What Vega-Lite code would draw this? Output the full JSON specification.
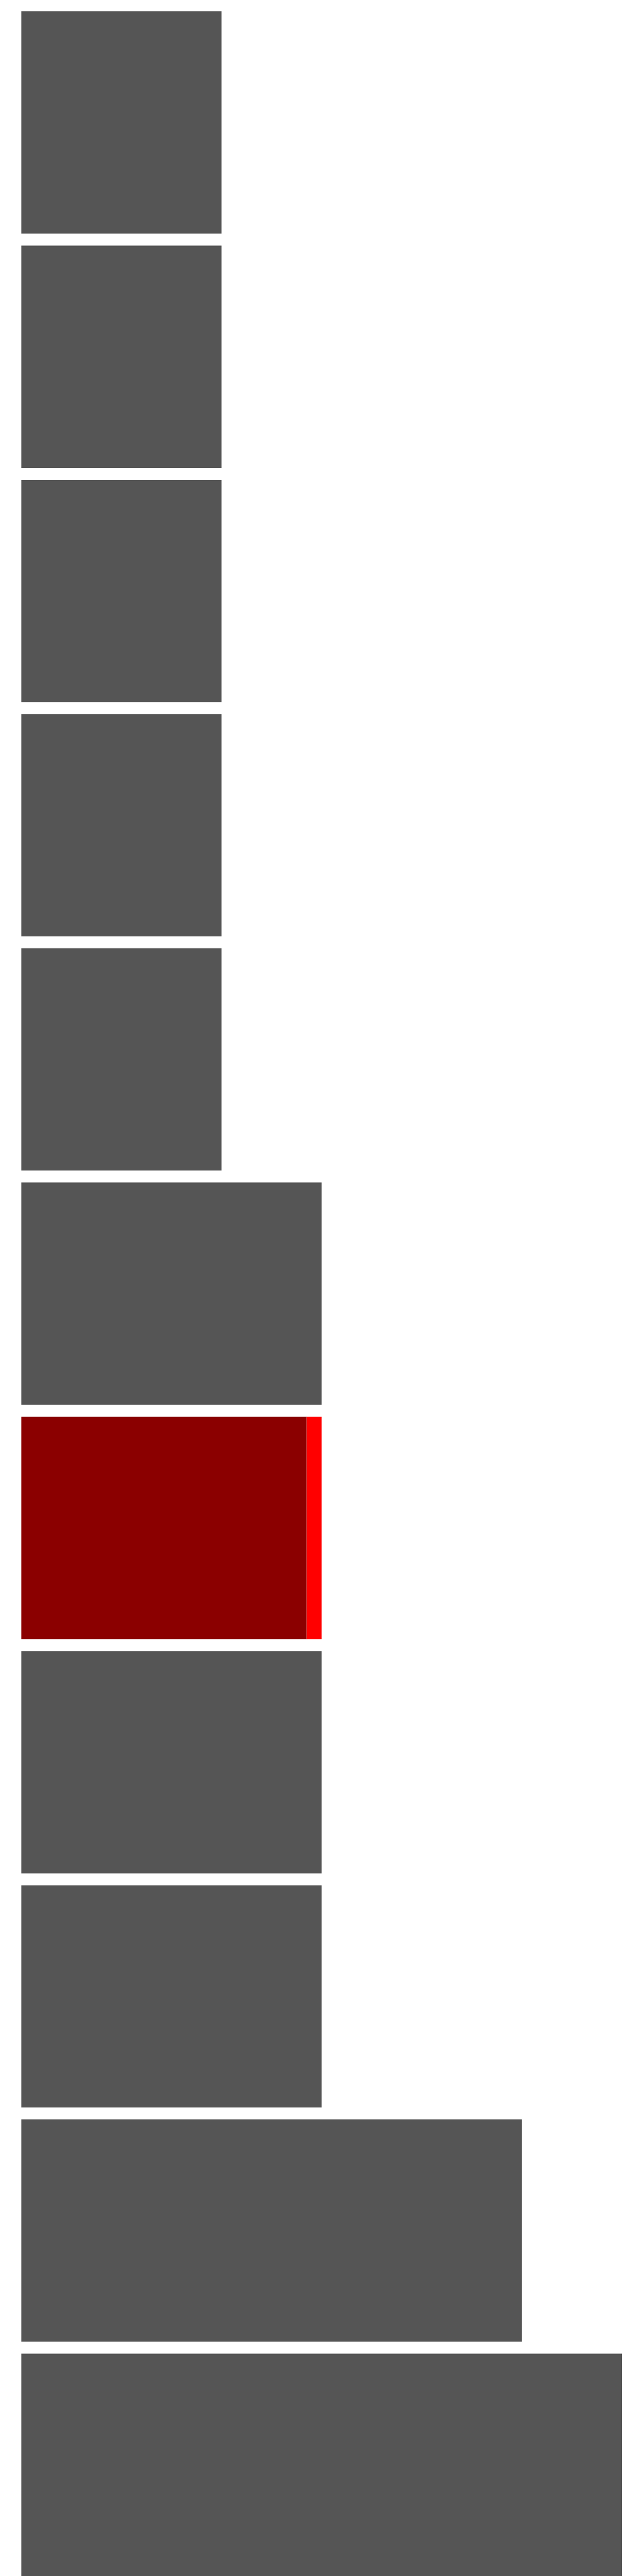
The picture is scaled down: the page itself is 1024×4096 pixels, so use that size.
{
  "$schema": "https://vega.github.io/schema/vega-lite/v6.json",
  "width": 955,
  "height": 4078,
  "padding": {"left": 34, "top": 18, "right": 0, "bottom": 0},
  "autosize": {"type": "pad"},
  "background": "#ffffff",
  "config": {"view": {"stroke": null}},
  "data": {
    "values": [
      {"cat": "a", "value": 2, "part": "base", "seg": 1},
      {"cat": "b", "value": 2, "part": "base", "seg": 1},
      {"cat": "c", "value": 2, "part": "base", "seg": 1},
      {"cat": "d", "value": 2, "part": "base", "seg": 1},
      {"cat": "e", "value": 2, "part": "base", "seg": 1},
      {"cat": "f", "value": 3, "part": "base", "seg": 1},
      {"cat": "g", "value": 2.85, "part": "highlight", "seg": 1},
      {"cat": "g", "value": 0.15, "part": "extra", "seg": 2},
      {"cat": "h", "value": 3, "part": "base", "seg": 1},
      {"cat": "i", "value": 3, "part": "base", "seg": 1},
      {"cat": "j", "value": 5, "part": "base", "seg": 1},
      {"cat": "k", "value": 6, "part": "base", "seg": 1}
    ]
  },
  "mark": {"type": "bar"},
  "encoding": {
    "y": {"field": "cat", "type": "nominal", "sort": null, "axis": null, "scale": {"paddingInner": 0.051, "paddingOuter": 0}},
    "x": {"field": "value", "type": "quantitative", "stack": "zero", "axis": null, "scale": {"domain": [0, 6], "nice": false}},
    "color": {"field": "part", "type": "nominal", "legend": null, "scale": {"domain": ["base", "highlight", "extra"], "range": ["#555555", "#8b0000", "#ff0000"]}},
    "order": {"field": "seg", "type": "quantitative"}
  }
}
